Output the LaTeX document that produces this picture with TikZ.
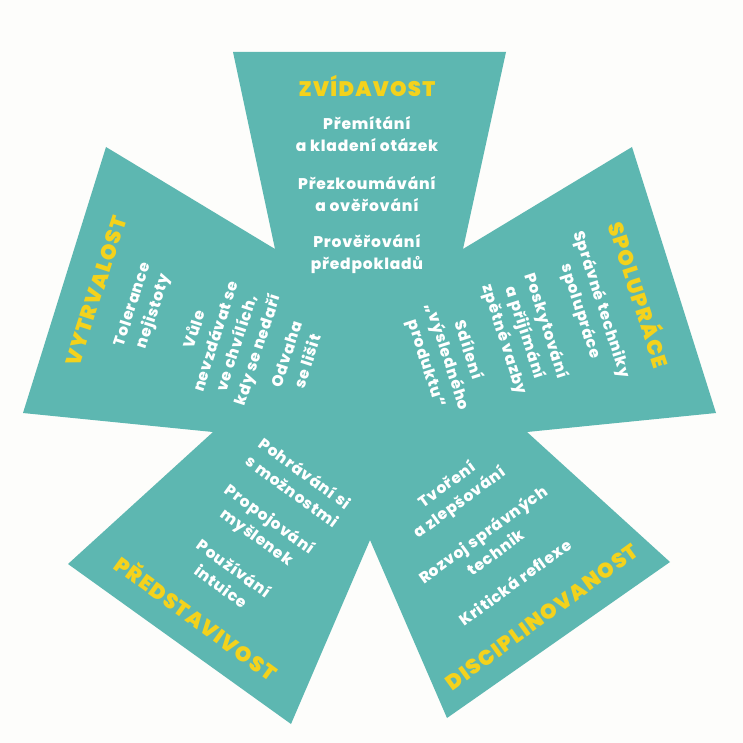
\documentclass[tikz,border=0pt]{standalone}
\usepackage{fontspec}
\setmainfont{Poppins}[BoldFont={* ExtraBold},LetterSpace=5]
\newfontfamily\titlefont{Poppins}[UprightFont={* Black},LetterSpace=6]
\definecolor{teal}{HTML}{5DB7B1}
\definecolor{gold}{HTML}{F4D21C}
\definecolor{bg}{HTML}{FDFDFB}
\begin{document}
\begin{tikzpicture}[x=1pt,y=-1pt,
  title/.style={text=gold,font=\titlefont\fontsize{21}{22}\selectfont,inner sep=0pt},
  item/.style={text=white,font=\bfseries\fontsize{15.5}{22}\selectfont,align=center,inner sep=0pt}]
\fill[bg] (0,0) rectangle (743,743);
\useasboundingbox (0,0) rectangle (743,743);
\fill[teal] (233,52) -- (506,52) -- (463,249) -- (632,147) -- (716,413) -- (527,432)
  -- (670,562) -- (447,718) -- (370,540) -- (291,724) -- (68,564) -- (213,432)
  -- (23,413) -- (106,147) -- (275,249) -- cycle;
% top arm
\node[title] (t1) at (367,86) {ZVÍDAVOST};
\node[item] (t1a) at (367,134) {Přemítání\\a kladení otázek};
\node[item] (t1b) at (367,194) {Přezkoumávání\\a ověřování};
\node[item] (t1c) at (367,254) {Prověřování\\předpokladů};
% left arm
\node[title,rotate=72] (t2) at (96,291) {VYTRVALOST};
\node[item,rotate=72] (t2a) at (144,308) {Tolerance\\nejistoty};
\node[item,rotate=72] (t2b) at (227,340) {Vůle\\nevzdávat se\\ve chvílích,\\kdy se nedaří};
\node[item,rotate=72] (t2c) at (297,358) {Odvaha\\se lišit};
% right arm
\node[title,rotate=-72] (t3) at (641,294) {SPOLUPRÁCE};
\node[item,rotate=-72] (t3a) at (591,308) {Správné techniky\\spolupráce};
\node[item,rotate=-72] (t3b) at (525,333) {Poskytování\\a přijímání\\zpětné vazby};
\node[item,rotate=-72] (t3c) at (447,357) {Sdílení\\„výsledného\\produktu“};
% lower left arm
\node[title,rotate=-36] (t4) at (197,617) {PŘEDSTAVIVOST};
\node[item,rotate=-36] (t4a) at (299,482) {Pohrávání si\\s možnostmi};
\node[item,rotate=-36] (t4b) at (263,529) {Propojování\\myšlenek};
\node[item,rotate=-36] (t4c) at (228,577) {Používání\\intuice};
% lower right arm
\node[title,rotate=36] (t5) at (542,617) {DISCIPLINOVANOST};
\node[item,rotate=36] (t5a) at (454,494) {Tvoření\\a zlepšování};
\node[item,rotate=36] (t5b) at (489,543) {Rozvoj správných\\technik};
\node[item,rotate=36] (t5c) at (515,582) {Kritická reflexe};
\end{tikzpicture}
\end{document}
